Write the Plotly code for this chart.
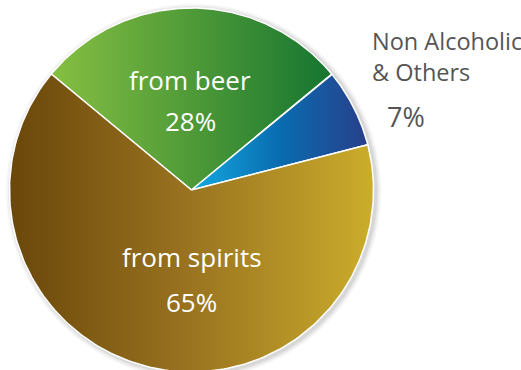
import numpy as np
import plotly.graph_objects as go

# ---- data ----
categories = ["from beer", "Non Alcoholic & Others", "from spirits"]
shares = [28, 7, 65]
pct_labels = ["28%", "7%", "65%"]

# ---- style ----
grad = [
    [[0, "#86bf42"], [0.5, "#4f9a38"], [1, "#157530"]],
    [[0, "#14a8e0"], [0.5, "#0a6cb0"], [1, "#283f8a"]],
    [[0, "#6a470b"], [0.5, "#9a7420"], [1, "#cbad2b"]],
]

W, H = 521, 370
cx_px, cy_px, r_px = 191.5, 190.0, 182.0

fig = go.Figure()

# soft shadow
th = np.linspace(0, 2 * np.pi, 361)
for k, op in [(1.030, 0.04), (1.020, 0.05), (1.010, 0.07)]:
    fig.add_trace(go.Scatter(
        x=k * np.sin(th) + 0.012, y=k * np.cos(th) - 0.008,
        mode="lines", fill="toself", fillcolor=f"rgba(0,0,0,{op})",
        line=dict(width=0), hoverinfo="skip", showlegend=False))

total = float(sum(shares))
start = -shares[0] / total * 360 / 2  # first slice centred at top
a = start
for cat, v, cs in zip(categories, shares, grad):
    span = v / total * 360
    angs = np.radians(np.linspace(a, a + span, 200))
    xs = np.concatenate([[0], np.sin(angs), [0]])
    ys = np.concatenate([[0], np.cos(angs), [0]])
    fig.add_trace(go.Scatter(
        x=xs, y=ys, mode="lines", fill="toself",
        fillgradient=dict(type="horizontal", colorscale=cs),
        line=dict(color="white", width=1.5),
        name=cat, hoverinfo="skip", showlegend=False))
    a += span

x0 = -cx_px / r_px
x1 = (W - cx_px) / r_px
y1 = cy_px / r_px
y0 = -(H - cy_px) / r_px

fig.update_layout(
    width=W, height=H,
    margin=dict(l=0, r=0, t=0, b=0),
    paper_bgcolor="white", plot_bgcolor="white",
    xaxis=dict(range=[x0, x1], visible=False, fixedrange=True),
    yaxis=dict(range=[y0, y1], visible=False, fixedrange=True),
    showlegend=False,
)

def px(x, y):
    return x / W, 1 - y / H

fnt = "Open Sans"
white = dict(family=fnt, size=26, color="white")
grey = dict(family=fnt, size=23.5, color="#555555")

anns = [
    (categories[0], 189.5, 80, "center", white),
    (pct_labels[0], 190.5, 121.5, "center", white),
    (categories[2], 191.5, 256.5, "center", white),
    (pct_labels[2], 191.5, 301.5, "center", white),
    ("Non Alcoholic<br>&amp; Others", 370, 56, "left", grey),
    (pct_labels[1], 405.5, 116.5, "center", dict(grey, size=27)),
]
for t, xx, yy, xa, f in anns:
    xp, yp = px(xx, yy)
    fig.add_annotation(x=xp, y=yp, xref="paper", yref="paper", text=t,
                       showarrow=False, xanchor=xa, yanchor="middle", font=f,
                       align="left")

fig.write_html("out.html")
